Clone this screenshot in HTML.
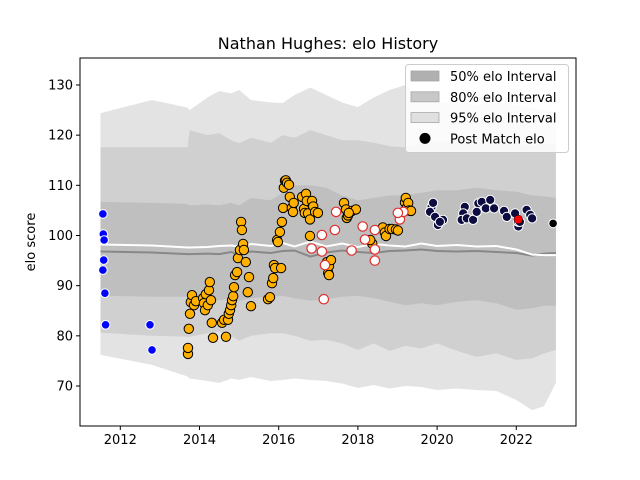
<!DOCTYPE html>
<html><head><meta charset="utf-8"><style>
body{margin:0;background:#fff}
svg{display:block;font-family:"DejaVu Sans","Liberation Sans",sans-serif}
</style></head><body>
<svg id="chart" width="640" height="480" viewBox="0 0 640 480">
<rect width="640" height="480" fill="#fff"/>
<text x="328" y="49" text-anchor="middle" font-size="16">Nathan Hughes: elo History</text>
<text transform="translate(35,242) rotate(-90)" text-anchor="middle" font-size="13">elo score</text>
<g id="bands"></g>
<g id="lines"></g>
<g id="points"></g>
<g id="axes"></g>
<g id="legend"></g>
</svg>
<script>
const bandYears=[2011.5,2012.8,2013.7,2013.75,2014.2,2014.5,2014.8,2015.0,2015.3,2015.8,2016.1,2016.4,2016.8,2017.2,2017.6,2018.0,2018.4,2018.8,2019.2,2019.6,2020.0,2020.5,2021.0,2021.5,2022.0,2022.4,2022.7,2023.0];
const hi95=[124.4,127.0,125.5,125.0,127.5,128.8,128.3,129.0,127.0,126.5,126.4,128.0,129.5,128.0,126.5,125.6,127.5,129.0,130.0,127.5,126.5,126.5,126.0,126.5,126.0,125.4,125.0,124.4];
const hi80=[117.6,117.6,117.6,121.0,120.0,120.4,119.0,118.4,119.5,118.5,120.0,119.5,121.0,120.0,119.0,119.0,118.5,117.8,117.6,118.5,118.6,119.0,118.5,118.8,118.2,118.0,118.2,118.0];
const hi50=[106.7,106.5,106.3,106.0,106.2,106.0,106.5,106.0,107.5,107.0,108.5,110.0,110.0,109.5,108.0,107.0,107.5,108.0,108.0,108.5,109.0,109.0,109.5,109.0,108.7,108.0,107.8,107.5];
const lo50=[88.0,87.8,87.8,87.5,87.2,87.1,87.5,87.0,87.5,87.8,88.0,87.5,87.0,87.3,87.8,88.0,87.5,86.8,86.1,86.5,86.1,86.8,87.1,86.5,85.2,85.5,86.0,86.0];
const lo80=[80.6,80.0,79.8,79.8,80.5,80.8,80.0,79.0,80.0,80.5,80.5,80.0,79.0,79.2,78.5,77.2,78.5,77.0,78.0,77.5,78.5,77.0,75.8,76.5,75.2,75.5,76.5,77.2];
const lo95=[76.2,74.2,71.9,71.5,71.0,70.6,71.5,71.2,71.8,71.0,71.2,71.5,71.2,71.0,70.5,69.6,70.2,69.5,70.0,69.8,69.2,69.5,69.2,69.0,67.2,65.2,66.0,70.6];
const meanLine=[98.2,98.0,97.6,97.6,97.7,97.9,98.0,97.8,98.3,97.9,98.5,97.8,98.8,97.8,98.4,97.7,98.3,98.0,97.8,98.4,97.9,98.1,97.8,97.9,97.2,96.2,96.1,96.1];
const medLine=[96.8,96.6,96.3,96.3,96.4,96.3,96.7,96.2,96.8,96.5,96.9,97.0,95.8,96.6,97.0,96.7,96.5,96.9,97.0,97.2,96.9,96.8,96.9,96.7,96.5,96.0,96.4,96.5];

const blueYears=[2011.56,2011.57,2011.59,2011.58,2011.56,2011.61,2011.63,2012.75,2012.80];
const blueElo=[104.3,100.3,99.1,95.1,93.1,88.5,82.2,82.2,77.2];
const orangeYears=[2013.71,2013.71,2013.73,2013.76,2013.78,2013.81,2013.86,2013.91,2014.09,2014.11,2014.14,2014.16,2014.21,2014.24,2014.26,2014.29,2014.31,2014.34,2014.57,2014.62,2014.67,2014.72,2014.74,2014.77,2014.80,2014.82,2014.85,2014.87,2014.90,2014.95,2014.97,2015.02,2015.05,2015.07,2015.10,2015.12,2015.17,2015.22,2015.25,2015.30,2015.73,2015.78,2015.83,2015.86,2015.88,2015.91,2015.96,2015.98,2016.03,2016.06,2016.08,2016.11,2016.13,2016.16,2016.18,2016.21,2016.26,2016.28,2016.33,2016.36,2016.38,2016.59,2016.64,2016.66,2016.69,2016.71,2016.74,2016.79,2016.84,2016.87,2016.92,2016.79,2016.99,2017.25,2017.22,2017.27,2017.32,2017.27,2017.65,2017.70,2017.72,2017.75,2017.85,2017.95,2017.77,2018.36,2018.31,2018.63,2018.68,2018.71,2018.80,2018.86,2018.96,2019.01,2019.19,2019.21,2019.24,2019.27,2019.29,2019.34];
const orangeElo=[76.4,77.6,81.4,84.4,86.7,88.1,86.1,86.9,87.5,86.5,85.1,88.3,86.1,89.1,90.7,87.1,82.6,79.6,82.6,83.2,79.8,83.2,84.4,85.1,86.1,87.1,87.9,89.7,92.1,92.7,95.5,97.1,102.7,101.1,98.3,97.1,94.7,88.7,91.7,85.9,87.3,87.7,90.5,91.5,94.1,93.5,99.1,98.7,100.7,93.5,102.7,105.5,109.5,110.9,111.0,110.5,110.1,107.7,105.5,104.7,106.5,107.7,105.3,104.5,108.3,106.9,104.4,103.2,106.9,105.8,104.7,99.9,104.5,92.5,94.7,93.9,95.1,92.1,106.5,105.2,103.5,104.0,104.9,105.2,104.5,98.4,99.1,101.6,100.6,99.9,101.3,101.3,101.2,101.0,106.6,107.5,105.6,106.5,105.0,104.9];
const openYears=[2017.45,2017.42,2017.09,2016.83,2017.09,2017.17,2017.14,2017.84,2018.12,2018.18,2018.43,2018.43,2018.43,2019.06,2019.15,2019.01];
const openElo=[104.7,101.1,100.1,97.4,96.8,94.1,87.3,97.0,101.8,99.2,101.1,97.2,95.0,103.2,104.7,104.5];
const navyYears=[2019.86,2019.82,2019.95,2020.02,2020.15,2019.90,2020.07,2020.70,2020.66,2020.62,2020.75,2020.91,2021.04,2021.13,2021.00,2021.23,2021.34,2021.44,2021.69,2021.76,2021.97,2022.05,2022.05,2022.09,2022.26,2022.35,2022.40];
const navyElo=[105.7,104.7,103.7,102.1,103.1,106.5,102.7,105.7,104.4,103.1,103.4,103.1,106.4,106.7,104.7,105.4,107.1,105.4,104.9,103.7,104.4,101.8,102.7,102.7,105.1,104.1,103.4];
const redYears=[2022.05];
const redElo=[103.2];
const finalYears=[2022.93];
const finalElo=[102.4];
const xTicks=[2012,2014,2016,2018,2020,2022];
const yTicks=[70,80,90,100,110,120,130];

const NS='http://www.w3.org/2000/svg';
const L=80,R=576,T=58,B=426;
function X(yr){return 120.3+(yr-2012)*39.6;}
function Y(v){return 386-(v-70)*5.017;}
function mk(tag,attrs,parent){const e=document.createElementNS(NS,tag);for(const k in attrs)e.setAttribute(k,attrs[k]);parent.appendChild(e);return e;}
const bands=document.getElementById('bands');
function band(lo,hi,fill,name){
  let d='M'+bandYears.map((y,i)=>X(y).toFixed(1)+','+Y(hi[i]).toFixed(1)).join('L');
  for(let i=bandYears.length-1;i>=0;i--)d+='L'+X(bandYears[i]).toFixed(1)+','+Y(lo[i]).toFixed(1);
  const p=mk('path',{d:d+'Z',fill:fill},bands);
  
  
}
band(lo95,hi95,'#e3e3e3','band-95');
band(lo80,hi80,'#d0d0d0','band-80');
band(lo50,hi50,'#bfbfbf','band-50');
const lines=document.getElementById('lines');
function line(arr,col,w,name){
  const p=mk('polyline',{points:bandYears.map((y,i)=>X(y).toFixed(1)+','+Y(arr[i]).toFixed(1)).join(' '),fill:'none',stroke:col,'stroke-width':w},lines);
  
  
}
line(medLine,'#888888',2,'median-line');
line(meanLine,'#ffffff',2,'mean-line');
const pts=document.getElementById('points');
function scatter(xs,ys,fill,stroke,r,sw,name){
  xs.forEach((yr,i)=>{
    const c=mk('circle',{cx:X(yr).toFixed(1),cy:Y(ys[i]).toFixed(1),r:r,fill:fill,stroke:stroke,'stroke-width':sw},pts);
    
    
  });
}
scatter(blueYears,blueElo,'#0000ff','#ffffff',4.3,1,'early-point');
scatter(orangeYears,orangeElo,'#ffb000','#000000',4.7,1,'orange-point');
scatter(openYears,openElo,'#ffffff','#e03030',4.7,1.2,'open-point');
scatter(navyYears,navyElo,'#0c0c40','#ffffff',4.6,1,'navy-point');
scatter(redYears,redElo,'#ff0000','#000000',4.3,0.5,'latest-red-point');
scatter(finalYears,finalElo,'#000000','#ffffff',4.3,1,'final-point');
const ax=document.getElementById('axes');
mk('rect',{x:L,y:T,width:R-L,height:B-T,fill:'none',stroke:'#000','stroke-width':1},ax);
xTicks.forEach(t=>{
  mk('line',{x1:X(t),x2:X(t),y1:B,y2:B+4,stroke:'#000'},ax);
  const tx=mk('text',{x:X(t),y:B+18,'text-anchor':'middle','font-size':13},ax);tx.textContent=t;
  
  
});
yTicks.forEach(t=>{
  mk('line',{x1:L-4,x2:L,y1:Y(t),y2:Y(t),stroke:'#000'},ax);
  const tx=mk('text',{x:L-7,y:Y(t)+4.5,'text-anchor':'end','font-size':13},ax);tx.textContent=t;
  
  
});
const lg=document.getElementById('legend');
mk('rect',{x:405.5,y:64.5,width:163,height:88,rx:3,fill:'#ffffff','fill-opacity':0.85,stroke:'#cccccc'},lg);
const legItems=[['50% elo Interval','#b0b0b0'],['80% elo Interval','#c8c8c8'],['95% elo Interval','#e0e0e0'],['Post Match elo',null]];
legItems.forEach((it,i)=>{
  const cy=76+i*20.8;
  const g=mk('g',{},lg);
  
  
  if(it[1])mk('rect',{x:411,y:cy-5,width:28,height:10,fill:it[1],stroke:'#a8a8a8','stroke-width':0.8},g);
  else mk('circle',{cx:425,cy:cy,r:5.5,fill:'#000'},g);
  const t=mk('text',{x:450,y:cy+5,'font-size':13},g);t.textContent=it[0];
});
</script>
</body></html>
